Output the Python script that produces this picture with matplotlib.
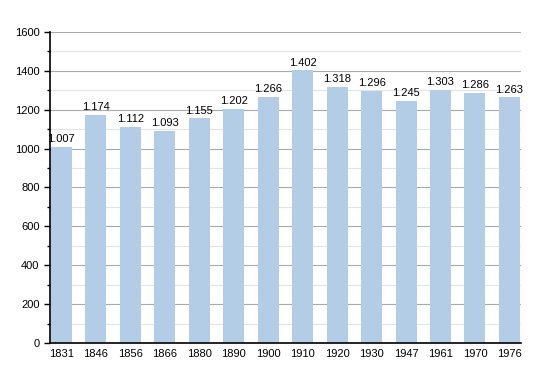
import matplotlib.pyplot as plt
from matplotlib.ticker import MultipleLocator

plt.rcParams['font.family'] = ['Liberation Sans', 'DejaVu Sans']

years = ['1831', '1846', '1856', '1866', '1880', '1890', '1900',
         '1910', '1920', '1930', '1947', '1961', '1970', '1976']
population = [1007, 1174, 1112, 1093, 1155, 1202, 1266,
              1402, 1318, 1296, 1245, 1303, 1286, 1263]

fig = plt.figure(figsize=(5.5, 3.73), dpi=100)
ax = fig.add_axes([0.0909, 0.0804, 0.856, 0.834])

x = range(len(years))
ax.bar(x, population, width=0.61, color='#b3cde6', zorder=2)

for i, v in zip(x, population):
    ax.text(i, v + 15, f'{v:,}'.replace(',', '.'), ha='center', va='bottom',
            fontsize=8, color='black', zorder=3)

ax.set_xlim(-0.33, len(years) - 0.67)
ax.set_ylim(0, 1600)
ax.set_xticks(list(x))
ax.set_xticklabels(years, fontsize=8)
ax.yaxis.set_major_locator(MultipleLocator(200))
ax.yaxis.set_minor_locator(MultipleLocator(100))
ax.tick_params(axis='y', labelsize=8, length=4, width=1)
ax.tick_params(axis='y', which='minor', length=2, width=1)
ax.tick_params(axis='x', length=0, pad=4)

ax.grid(axis='y', which='major', color='#aaaaaa', linewidth=0.8, zorder=0)
ax.grid(axis='y', which='minor', color='#e4e4e4', linewidth=0.8, zorder=0)

for s in ['top', 'right']:
    ax.spines[s].set_visible(False)
ax.spines['left'].set_linewidth(1.2)
ax.spines['bottom'].set_linewidth(1.2)

fig.savefig('out.png', dpi=100)
